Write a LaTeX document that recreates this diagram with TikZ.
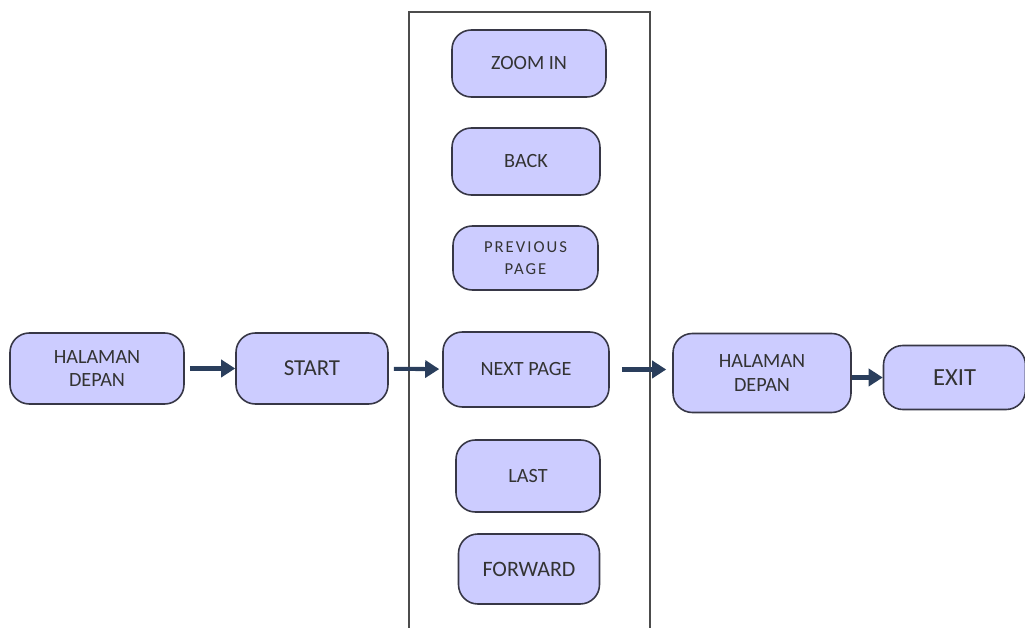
\documentclass[tikz,border=0pt]{standalone}
\usepackage{fontspec}
\setmainfont{Carlito}
\usetikzlibrary{arrows.meta}
\definecolor{boxfill}{RGB}{204,204,255}
\definecolor{boxline}{RGB}{55,55,70}
\definecolor{arrowblue}{RGB}{42,62,92}
\begin{document}
\begin{tikzpicture}[
    menu/.style={rectangle,rounded corners=11pt,draw=boxline,line width=0.9pt,fill=boxfill,
        align=center,font=\fontsize{11.5}{13.5}\selectfont,text=black!80},
    arr/.style={-{Triangle[length=0.28cm,width=0.34cm]},line width=2.3pt,draw=arrowblue}]
    \useasboundingbox (0,0) rectangle (20.5,12.56);
    % frame around the page buttons
    \draw[line width=1pt,draw=black!70] (8.18,-0.3) -- (8.18,12.32) -- (13.0,12.32) -- (13.0,-0.3);
    \node[menu,minimum width=3.48cm,minimum height=1.42cm] (h1) at (1.94,5.19) {HALAMAN\\DEPAN};
    \node[menu,minimum width=3.04cm,minimum height=1.42cm,font=\fontsize{13}{15}\selectfont] (start) at (6.24,5.19) {START};
    \node[menu,minimum width=3.08cm,minimum height=1.34cm] (zoom) at (10.58,11.29) {ZOOM IN};
    \node[menu,minimum width=2.96cm,minimum height=1.34cm] (back) at (10.52,9.33) {BACK};
    \node[menu,minimum width=2.90cm,minimum height=1.28cm,font=\fontsize{9.5}{12.5}\selectfont\addfontfeature{LetterSpace=12}] (prev) at (10.51,7.40) {PREVIOUS\\PAGE};
    \node[menu,minimum width=3.32cm,minimum height=1.50cm] (next) at (10.52,5.17) {NEXT PAGE};
    \node[menu,minimum width=2.88cm,minimum height=1.44cm] (last) at (10.56,3.04) {LAST};
    \node[menu,minimum width=2.82cm,minimum height=1.40cm,font=\fontsize{12.5}{14}\selectfont] (fwd) at (10.58,1.18) {FORWARD};
    \node[menu,minimum width=3.56cm,minimum height=1.58cm] (h2) at (15.24,5.10) {HALAMAN\\DEPAN};
    \node[menu,minimum width=2.84cm,minimum height=1.28cm,font=\fontsize{14}{16}\selectfont] (exit) at (19.09,5.01) {EXIT};
    \draw[arr,shorten <=0.1cm] (h1) -- (start);
    \draw[arr,shorten <=0.1cm,shorten >=0.06cm] (start) -- (next);
    \draw[arr,shorten <=0.24cm,shorten >=0.12cm] (next.east) -- (h2.west |- next.east);
    \draw[arr] (h2.east |- exit.west) -- (exit.west);
\end{tikzpicture}
\end{document}
